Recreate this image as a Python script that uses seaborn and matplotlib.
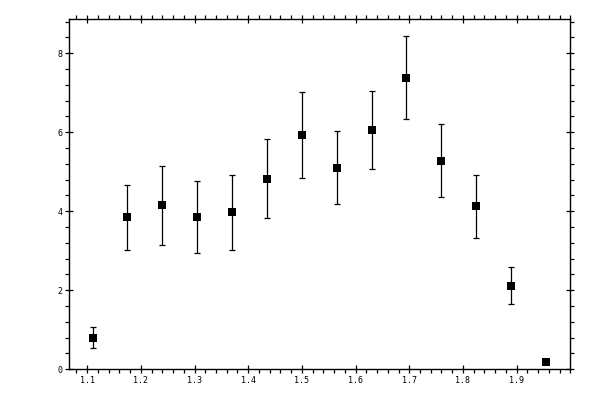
import numpy as np
import pandas as pd
import matplotlib
matplotlib.use("Agg")
import matplotlib.pyplot as plt
import seaborn as sns
from matplotlib.ticker import MultipleLocator

# values
x_vals = [1.111, 1.175, 1.240, 1.305, 1.370, 1.435, 1.500, 1.565, 1.630, 1.694, 1.759, 1.824, 1.889, 1.955]
y_vals = [0.79, 3.85, 4.15, 3.85, 3.97, 4.81, 5.92, 5.09, 6.05, 7.37, 5.27, 4.13, 2.11, 0.18]
y_upper = [1.06, 4.66, 5.14, 4.76, 4.91, 5.82, 7.01, 6.03, 7.05, 8.43, 6.20, 4.92, 2.58, 0.18]
y_lower = [0.53, 3.01, 3.14, 2.94, 3.01, 3.82, 4.84, 4.18, 5.06, 6.33, 4.35, 3.32, 1.65, 0.18]
x_tick_labels = ["1.1", "1.2", "1.3", "1.4", "1.5", "1.6", "1.7", "1.8", "1.9"]

df = pd.DataFrame({"x": x_vals, "y": y_vals})
yerr = np.array([np.array(y_vals) - np.array(y_lower), np.array(y_upper) - np.array(y_vals)])

sns.set_style("ticks")
plt.rcParams['font.family'] = ['DejaVu Sans Mono']

fig = plt.figure(figsize=(6, 4), dpi=100)
ax = fig.add_axes([0.1155, 0.077, 0.835, 0.875])

ax.errorbar(df["x"], df["y"], yerr=yerr, fmt="none", ecolor="black",
            elinewidth=0.9, capsize=2.0, capthick=0.9)
sns.scatterplot(data=df, x="x", y="y", marker="s", s=26, color="black",
                edgecolor="black", linewidth=0, ax=ax, zorder=3)

ax.set_xlim(1.0667, 2.0)
ax.set_ylim(0, 8.86)
ax.xaxis.set_minor_locator(MultipleLocator(0.02))
ax.yaxis.set_major_locator(MultipleLocator(2))
ax.yaxis.set_minor_locator(MultipleLocator(0.4))
ax.set_xticks([float(t) for t in x_tick_labels])
ax.set_xticklabels(x_tick_labels)

ax.set_xlabel("")
ax.set_ylabel("")
for sp in ax.spines.values():
    sp.set_visible(True)
    sp.set_linewidth(1.0)
    sp.set_color("black")

ax.tick_params(which="major", direction="inout", length=6, width=0.9,
               top=True, right=True, labelsize=6, pad=2, colors="black")
ax.tick_params(which="minor", direction="out", length=3, width=0.9,
               top=True, right=True, colors="black")

fig.savefig("out.png", dpi=100)
